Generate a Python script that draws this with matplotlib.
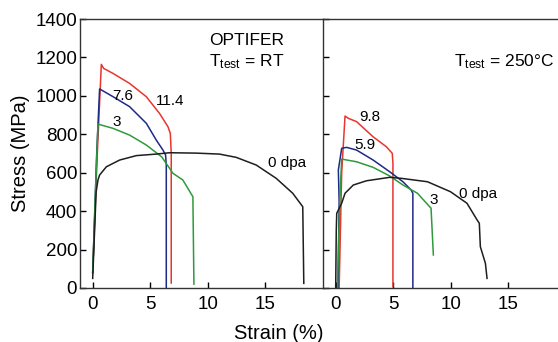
import matplotlib.pyplot as plt
import matplotlib as mpl

mpl.rcParams['font.family'] = ['Liberation Sans', 'DejaVu Sans']
mpl.rcParams['mathtext.default'] = 'regular'
mpl.rcParams['font.size'] = 13.5

# strain (%) / stress (MPa)
# RT tests
rt_114_x = [0.0, 0.4, 0.75, 0.95, 1.76, 3.2, 4.65, 5.8, 6.53, 6.74, 6.82, 6.82]
rt_114_y = [80, 700, 1164, 1143, 1117, 1065, 996, 909, 840, 805, 700, 26]
rt_76_x = [0.0, 0.35, 0.6, 1.76, 3.2, 4.66, 5.52, 6.1, 6.33, 6.39, 6.39]
rt_76_y = [80, 700, 1036, 996, 944, 857, 770, 718, 692, 640, 0]
rt_3_x = [0.0, 0.3, 0.46, 1.76, 3.2, 4.66, 6.0, 6.97, 7.83, 8.7, 8.79]
rt_3_y = [80, 600, 853, 831, 796, 744, 682, 597, 562, 475, 20]
rt_0_x = [0.0, 0.3, 0.46, 0.6, 1.19, 2.34, 3.79, 5.52, 6.68, 9.0, 11.0, 12.46,
          14.2, 15.93, 17.37, 18.24, 18.33]
rt_0_y = [50, 500, 562, 588, 631, 666, 689, 697, 704, 702, 697, 680,
          640, 571, 493, 423, 24]

# 250 C tests
ht_98_x = [0.3, 0.52, 0.81, 1.1, 1.81, 3.25, 4.4, 4.91, 4.97, 4.97]
ht_98_y = [0, 600, 895, 883, 866, 787, 735, 701, 650, 7]
ht_59_x = [0.2, 0.3, 0.23, 0.52, 0.95, 1.81, 3.25, 4.69, 5.84, 6.55, 6.7, 6.7]
ht_59_y = [0, 450, 614, 727, 732, 718, 666, 605, 553, 510, 493, 0]
ht_3_x = [0.15, 0.35, 0.52, 1.81, 3.25, 4.69, 5.84, 7.1, 8.28, 8.48]
ht_3_y = [0, 450, 671, 657, 628, 583, 536, 493, 415, 172]
ht_0_x = [0.0, 0.05, 0.09, 0.52, 0.81, 1.53, 2.67, 4.69, 5.66, 7.97, 9.97,
          11.4, 12.28, 12.47, 12.56, 13.0, 13.14]
ht_0_y = [0, 300, 389, 441, 493, 536, 558, 576, 571, 553, 501,
          441, 354, 337, 215, 128, 50]

red = '#e8352d'
blue = '#1d2a86'
green = '#2f9a3c'
black = '#1e1e1e'

fig = plt.figure(figsize=(5.58, 3.42), dpi=100)
ax1 = fig.add_axes([0.1434, 0.1579, 0.4355, 0.7865])
ax2 = fig.add_axes([0.5789, 0.1579, 0.4355, 0.7865])

lw = 1.1
ax1.plot(rt_114_x, rt_114_y, color=red, lw=lw)
ax1.plot(rt_76_x, rt_76_y, color=blue, lw=lw)
ax1.plot(rt_3_x, rt_3_y, color=green, lw=lw)
ax1.plot(rt_0_x, rt_0_y, color=black, lw=lw)

ax2.plot(ht_98_x, ht_98_y, color=red, lw=lw)
ax2.plot(ht_59_x, ht_59_y, color=blue, lw=lw)
ax2.plot(ht_3_x, ht_3_y, color=green, lw=lw)
ax2.plot(ht_0_x, ht_0_y, color=black, lw=lw)

lab = dict(fontsize=11, ha='center', va='center')
ax1.text(2.63, 999, '7.6', **lab)
ax1.text(6.7, 973, '11.4', **lab)
ax1.text(2.05, 866, '3', **lab)
ax1.text(16.9, 649, '0 dpa', **lab)
ax2.text(2.97, 888, '9.8', **lab)
ax2.text(2.53, 744, '5.9', **lab)
ax2.text(8.48, 458, '3', **lab)
ax2.text(12.4, 487, '0 dpa', **lab)

ax1.text(13.4, 1288, 'OPTIFER', fontsize=12.5, ha='center', va='center')
ax1.text(13.4, 1178, 'T$_{test}$ = RT', fontsize=12.5, ha='center', va='center')
ax2.text(10.3, 1178, 'T$_{test}$ = 250°C', fontsize=12.5, ha='left', va='center')

for ax in (ax1, ax2):
    ax.set_xlim(-1.1, 20)
    ax.set_ylim(0, 1400)
    ax.set_xticks([0, 5, 10, 15])
    ax.set_yticks(range(0, 1401, 200))
    ax.tick_params(direction='in', length=4, width=1, labelsize=13.5)
    ax.tick_params(axis='x', pad=6)
    ax.tick_params(axis='y', pad=2)
    for s in ax.spines.values():
        s.set_linewidth(1)
        s.set_color('#333333')

ax1.spines['right'].set_visible(False)
ax2.tick_params(labelleft=False)
ax1.set_ylabel('Stress (MPa)', fontsize=14.5, labelpad=4)
fig.text(0.5, 0.026, 'Strain (%)', fontsize=14.5, ha='center', va='center')

fig.savefig('out.png', dpi=100)
